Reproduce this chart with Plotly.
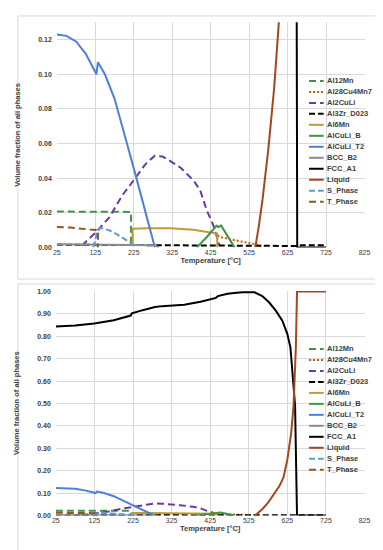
import plotly.graph_objects as go

# ---------------- data ----------------
t_al12mn = [25, 100, 218, 218]
v_al12mn = [0.0207, 0.0207, 0.0205, 0.0]

t_al28 = [443, 448, 480, 510, 535, 554, 556]
v_al28 = [0.0070, 0.0061, 0.0045, 0.0030, 0.0018, 0.0012, 0.0]

t_al2culi = [90, 110, 128, 162, 195, 229, 255, 280, 300, 313, 347, 381, 398, 415, 432, 448]
v_al2culi = [0.0010, 0.0050, 0.0090, 0.0175, 0.0300, 0.0400, 0.0480, 0.0530, 0.0525, 0.0509,
             0.0460, 0.0385, 0.0328, 0.0213, 0.0128, 0.0010]

t_al3zr = [25, 150, 300, 450, 540, 650, 660, 725]
v_al3zr = [0.0016, 0.0015, 0.0013, 0.0011, 0.0008, 0.0008, 0.0012, 0.0012]

t_al6mn = [222, 222, 260, 320, 380, 420, 442, 442]
v_al6mn = [0.0015, 0.0108, 0.0110, 0.0111, 0.0102, 0.0090, 0.0080, 0.0]

t_aculib = [389, 415, 440, 446, 452, 470, 487]
v_aculib = [0.0, 0.0060, 0.0125, 0.0118, 0.0127, 0.0065, 0.0]

t_t2 = [25, 50, 75, 100, 128, 132, 150, 175, 200, 212, 225, 250, 280]
v_t2 = [0.123, 0.1222, 0.119, 0.112, 0.100, 0.107, 0.100, 0.086, 0.066, 0.0566, 0.0458, 0.025, 0.0]

t_bcc = [25, 150, 280, 290]
v_bcc = [0.0018, 0.0016, 0.0012, 0.0]

t_fcc = [25, 75, 125, 175, 219, 222, 250, 282, 300, 358, 400, 440, 445, 470, 493, 510, 540,
         560, 578, 595, 612, 625, 633, 640, 645, 650, 725]
v_fcc = [0.844, 0.848, 0.857, 0.872, 0.893, 0.903, 0.917, 0.931, 0.935, 0.941, 0.955, 0.972,
         0.980, 0.990, 0.995, 0.997, 0.997, 0.980, 0.951, 0.915, 0.870, 0.810, 0.750, 0.600,
         0.490, 0.0, 0.0]

t_liquid = [541, 550, 560, 575, 590, 604, 615, 625, 635, 641, 647, 650, 725]
v_liquid = [0.0, 0.012, 0.028, 0.057, 0.092, 0.130, 0.170, 0.250, 0.370, 0.490, 0.750, 1.0, 1.0]

t_sphase = [120, 130, 138, 160, 178, 195, 212, 225, 230]
v_sphase = [0.0, 0.0090, 0.0113, 0.0100, 0.0080, 0.0058, 0.0033, 0.0012, 0.0]

t_tphase = [25, 60, 111, 132, 132]
v_tphase = [0.0118, 0.0115, 0.0103, 0.0100, 0.0]

names = ["Al12Mn", "Al28Cu4Mn7", "Al2CuLi", "Al3Zr_D023", "Al6Mn", "AlCuLi_B",
         "AlCuLi_T2", "BCC_B2", "FCC_A1", "Liquid", "S_Phase", "T_Phase"]
temps = [t_al12mn, t_al28, t_al2culi, t_al3zr, t_al6mn, t_aculib,
         t_t2, t_bcc, t_fcc, t_liquid, t_sphase, t_tphase]
values = [v_al12mn, v_al28, v_al2culi, v_al3zr, v_al6mn, v_aculib,
          v_t2, v_bcc, v_fcc, v_liquid, v_sphase, v_tphase]

x_ticks = [25, 125, 225, 325, 425, 525, 625, 725, 825]

# ---------------- styles ----------------
colors = ["#3f9445", "#c55a11", "#6b3aa0", "#000000", "#c39a2e", "#3f9445",
          "#4f7fdc", "#8c8c8c", "#000000", "#a6461f", "#5b9bd5", "#8b5a1a"]
dashes = ["7px,4px", "2px,2px", "7px,4px", "6px,3px", "solid", "solid",
          "solid", "solid", "solid", "solid", "6px,3px", "7px,4px"]

W, H = 383, 550
def px(x):
    return x / W
def py(y):
    return 1 - y / H

FONT = "Liberation Sans"
TXT = "#404040"

fig = go.Figure()
for panel, (xa, ya) in enumerate([("x", "y"), ("x2", "y2")]):
    for n, t, v, c, d in zip(names, temps, values, colors, dashes):
        fig.add_trace(go.Scatter(x=t, y=v, mode="lines", name=n, xaxis=xa, yaxis=ya,
                                 line=dict(color=c, width=2, dash=d), showlegend=False))

tickfont = dict(family=FONT, size=7, color=TXT)
titlefont = dict(family=FONT, size=7.5, color=TXT)
xcommon = dict(showgrid=True, gridcolor="#d9d9d9", gridwidth=1, zeroline=False,
               tickfont=tickfont, ticks="", showline=False, range=[25, 825],
               tickvals=x_ticks, tickprefix="<b>", ticksuffix="</b>",
               title=dict(text="<b>Temperature [°C]</b>", font=titlefont, standoff=2))
ycommon = dict(showgrid=True, gridcolor="#d9d9d9", gridwidth=1, zeroline=False,
               tickfont=tickfont, ticks="", showline=False, tickformat=".2f",
               tickprefix="<b>", ticksuffix="</b>", ticklabelstandoff=4,
               title=dict(text="<b>Volume fraction of all phases</b>", font=titlefont, standoff=16))

fig.update_layout(
    width=W, height=H, margin=dict(l=0, r=0, t=0, b=0),
    paper_bgcolor="white", plot_bgcolor="white", showlegend=False,
    xaxis=dict(domain=[px(46), px(362)], anchor="y", **xcommon),
    yaxis=dict(domain=[py(239), py(11.5)], range=[0, 0.13], dtick=0.02, anchor="x", **ycommon),
    xaxis2=dict(domain=[px(45), px(362)], anchor="y2", **xcommon),
    yaxis2=dict(domain=[py(510), py(283)], range=[0, 1.003], dtick=0.1, anchor="x2", **ycommon),
)

# chart-area frames
shapes = []
for (x0, y0, x1, y1) in [(6, 5, 375, 271), (6, 276, 377, 546)]:
    shapes.append(dict(type="rect", xref="paper", yref="paper", x0=px(x0), x1=px(x1),
                       y0=py(y1), y1=py(y0), line=dict(color="#d9d9d9", width=1)))

# legends (built from the series lists)
annotations = []
for top in [70.7, 341.7]:
    for i, (n, c, d) in enumerate(zip(names, colors, dashes)):
        yy = top + i * 11.1
        shapes.append(dict(type="line", xref="paper", yref="paper", x0=px(305), x1=px(320),
                           y0=py(yy), y1=py(yy), line=dict(color=c, width=2, dash=d)))
        annotations.append(dict(xref="paper", yref="paper", x=px(321), y=py(yy), xanchor="left",
                                yanchor="middle", text="<b>" + n + "</b>", showarrow=False,
                                font=dict(family=FONT, size=7.5, color=TXT)))

fig.update_layout(shapes=shapes, annotations=annotations)
fig.write_html("out.html")
